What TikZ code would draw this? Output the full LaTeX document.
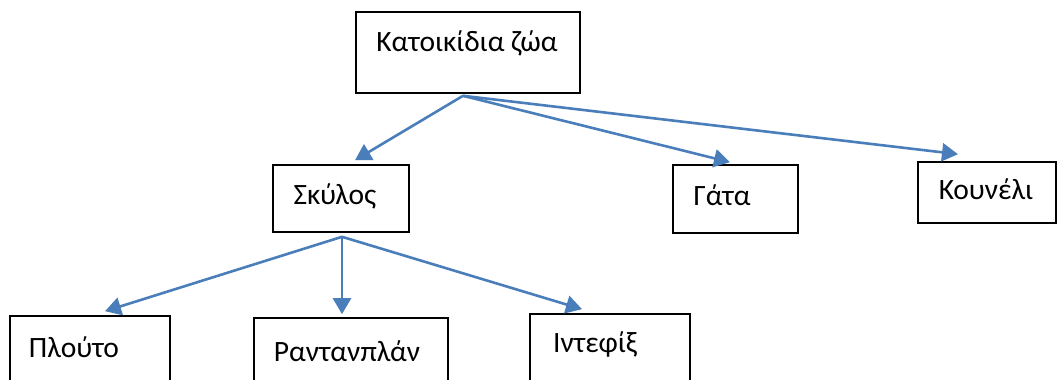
\documentclass[tikz,border=0pt]{standalone}
\usepackage{fontspec}
\setmainfont{Carlito}
\usetikzlibrary{arrows.meta,calc}
\definecolor{arrblue}{HTML}{4A7EBB}
\begin{document}
\begin{tikzpicture}[x=1pt,y=1pt,
  box/.style={draw=black,line width=1.6pt,rectangle,inner sep=0pt},
  txt/.style={anchor=base,inner sep=0pt,font=\fontsize{29.5}{34}\selectfont},
  arr/.style={draw=arrblue,line width=2.6pt,-{Triangle[length=16pt,width=18pt]}}]
\useasboundingbox (0,0) rectangle (1058,380);
\fill[white] (0,0) rectangle (1058,380);
% boxes
\node[box,minimum width=224,minimum height=81] (top) at (468,327.5) {};
\node[box,minimum width=136,minimum height=67] (sky) at (341,181.5) {};
\node[box,minimum width=125,minimum height=68] (gata) at (735.5,181) {};
\node[box,minimum width=138,minimum height=61] (kou) at (987,187.5) {};
\node[box,minimum width=160,minimum height=80] (plo) at (90,24) {};
\node[box,minimum width=194,minimum height=80] (ran) at (351,22) {};
\node[box,minimum width=160,minimum height=80] (int) at (610,26) {};
% texts
\node[txt] (topt) at (467,328) {Κατοικίδια ζώα};
\node[txt] (skyt) at (335,175) {Σκύλος};
\node[txt] (gatat) at (722,174) {Γάτα};
\node[txt] (kout) at (986,180) {Κουνέλι};
\node[txt] (plot) at (74,22) {Πλούτο};
\node[txt] (rant) at (347,18) {Ραντανπλάν};
\node[txt] (intt) at (595,27) {Ιντεφίξ};
% connectors
\coordinate (ts) at ($(top.south)+(-5,-2)$);
\coordinate (ss) at ($(sky.south)+(1,-4)$);
\draw[arr] (ts) -- ($(sky.north)+(14,4)$);
\draw[arr] (ts) -- ($(gata.north)+(-5.5,2)$);
\draw[arr] (ts) -- ($(kou.north)+(-29,7)$);
\draw[arr] (ss) -- ($(plo.north)+(15,4)$);
\draw[arr] (ss) -- ($(ran.north)+(-9,3)$);
\draw[arr] (ss) -- ($(int.north)+(-28,4)$);
\end{tikzpicture}
\end{document}
